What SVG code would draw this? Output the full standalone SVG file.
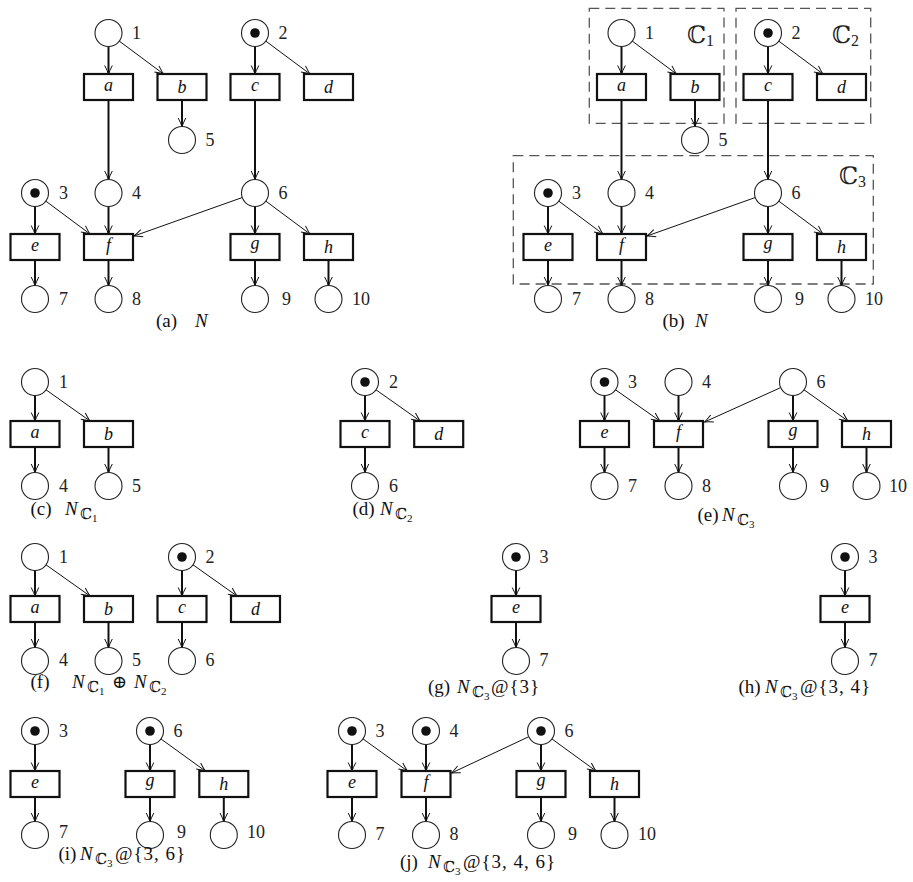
<svg xmlns="http://www.w3.org/2000/svg" width="913" height="882" viewBox="0 0 913 882">
<style>
.pl{fill:#fff;stroke:#222;stroke-width:1.1}
.tk{fill:#111}
.tr{fill:#fff;stroke:#111;stroke-width:2.2}
.arc{fill:none;stroke:#111;marker-end:url(#ah)}
.v{stroke-width:2}
.d{stroke-width:1}
.lb{font-family:"Liberation Serif","Tinos","Times New Roman","DejaVu Serif",serif;font-size:18px;fill:#222}
.tl{font-family:"Liberation Serif","Tinos","Times New Roman","DejaVu Serif",serif;font-style:italic;font-size:18px;text-anchor:middle;fill:#111}
.cap{font-family:"Liberation Serif","Tinos","Times New Roman","DejaVu Serif",serif;font-size:19px;fill:#111}
.it{font-style:italic}
.ls{letter-spacing:1px}
.bb{font-family:"DejaVu Serif",serif}
.box{fill:none;stroke:#555;stroke-width:1.3;stroke-dasharray:10 6}
</style>
<defs>
<marker id="ah" markerUnits="userSpaceOnUse" markerWidth="12" markerHeight="10" viewBox="-10 -5 12 10" refX="0" refY="0" orient="auto" overflow="visible">
<path d="M-8.5,-3.8 Q-3,-1 0,0 Q-3,1 -8.5,3.8" fill="none" stroke="#111" stroke-width="1"/>
</marker>
</defs>

<!-- ================= Panel (a) ================= -->
<g id="panel-a">
<g id="a-connectors">
<line class="arc v" x1="108.5" y1="46.5" x2="108.5" y2="74"/>
<line class="arc d" x1="119.3" y1="41.1" x2="163.5" y2="74"/>
<line class="arc v" x1="255" y1="46.5" x2="255" y2="74"/>
<line class="arc d" x1="265.8" y1="41.1" x2="310" y2="74"/>
<line class="arc v" x1="108.5" y1="100" x2="108.5" y2="179.5"/>
<line class="arc v" x1="182" y1="100" x2="182" y2="126.5"/>
<line class="arc v" x1="255" y1="100" x2="255" y2="179.5"/>
<line class="arc v" x1="35" y1="206.5" x2="35" y2="234"/>
<line class="arc d" x1="45.8" y1="201.1" x2="90" y2="234"/>
<line class="arc v" x1="108.5" y1="206.5" x2="108.5" y2="234"/>
<line class="arc d" x1="242.3" y1="197.5" x2="134" y2="236"/>
<line class="arc v" x1="255" y1="206.5" x2="255" y2="234"/>
<line class="arc d" x1="265.8" y1="201.1" x2="310" y2="234"/>
<line class="arc v" x1="35" y1="260" x2="35" y2="285.5"/>
<line class="arc v" x1="108.5" y1="260" x2="108.5" y2="285.5"/>
<line class="arc v" x1="255" y1="260" x2="255" y2="285.5"/>
<line class="arc v" x1="328.5" y1="260" x2="328.5" y2="285.5"/>
</g>
<g id="a-p1"><circle class="pl" cx="108.5" cy="33" r="13.5"/><text class="lb" x="132" y="39">1</text></g>
<g id="a-p2"><circle class="pl" cx="255" cy="33" r="13.5"/><circle class="tk" cx="255" cy="33" r="4.8"/><text class="lb" x="278.5" y="39">2</text></g>
<g id="a-p5"><circle class="pl" cx="182" cy="140" r="13.5"/><text class="lb" x="205.5" y="146">5</text></g>
<g id="a-p3"><circle class="pl" cx="35" cy="193" r="13.5"/><circle class="tk" cx="35" cy="193" r="4.8"/><text class="lb" x="59" y="199">3</text></g>
<g id="a-p4"><circle class="pl" cx="108.5" cy="193" r="13.5"/><text class="lb" x="132" y="199">4</text></g>
<g id="a-p6"><circle class="pl" cx="255" cy="193" r="13.5"/><text class="lb" x="278.5" y="199">6</text></g>
<g id="a-p7"><circle class="pl" cx="35" cy="299" r="13.5"/><text class="lb" x="59" y="305">7</text></g>
<g id="a-p8"><circle class="pl" cx="108.5" cy="299" r="13.5"/><text class="lb" x="132" y="305">8</text></g>
<g id="a-p9"><circle class="pl" cx="255" cy="299" r="13.5"/><text class="lb" x="282" y="305">9</text></g>
<g id="a-p10"><circle class="pl" cx="328.5" cy="299" r="13.5"/><text class="lb" x="352" y="305">10</text></g>
<g id="a-ta"><rect class="tr" x="84" y="74" width="49" height="26"/><text class="tl" x="108.5" y="91">a</text></g>
<g id="a-tb"><rect class="tr" x="157.5" y="74" width="49" height="26"/><text class="tl" x="182" y="93">b</text></g>
<g id="a-tc"><rect class="tr" x="230.5" y="74" width="49" height="26"/><text class="tl" x="255" y="91">c</text></g>
<g id="a-td"><rect class="tr" x="304" y="74" width="49" height="26"/><text class="tl" x="328.5" y="93">d</text></g>
<g id="a-te"><rect class="tr" x="10.5" y="234" width="49" height="26"/><text class="tl" x="35" y="251">e</text></g>
<g id="a-tf"><rect class="tr" x="84" y="234" width="49" height="26"/><text class="tl" x="108.5" y="251">f</text></g>
<g id="a-tg"><rect class="tr" x="230.5" y="234" width="49" height="26"/><text class="tl" x="255" y="249">g</text></g>
<g id="a-th"><rect class="tr" x="304" y="234" width="49" height="26"/><text class="tl" x="328.5" y="253">h</text></g>
<text class="cap" x="156" y="327">(a)<tspan class="it" x="195">N</tspan></text>
</g>

<!-- ================= Panel (b) ================= -->
<g id="panel-b">
<g id="b-clusters">
<rect class="box" x="589.3" y="8.3" width="134.7" height="115"/>
<rect class="box" x="736" y="8.3" width="134.7" height="115"/>
<rect class="box" x="513.3" y="155.7" width="360" height="128.3"/>
<text class="bb" x="687" y="43" font-size="24" fill="#222">ℂ<tspan font-size="16" font-family="Liberation Serif, DejaVu Serif, serif" dy="3">1</tspan></text>
<text class="bb" x="832" y="43" font-size="24" fill="#222">ℂ<tspan font-size="16" font-family="Liberation Serif, DejaVu Serif, serif" dy="3">2</tspan></text>
<text class="bb" x="839" y="184" font-size="24" fill="#222">ℂ<tspan font-size="16" font-family="Liberation Serif, DejaVu Serif, serif" dy="3">3</tspan></text>
</g>
<g id="b-connectors">
<line class="arc v" x1="621.5" y1="46.5" x2="621.5" y2="74"/>
<line class="arc d" x1="632.3" y1="41.1" x2="676.5" y2="74"/>
<line class="arc v" x1="768" y1="46.5" x2="768" y2="74"/>
<line class="arc d" x1="778.8" y1="41.1" x2="823" y2="74"/>
<line class="arc v" x1="621.5" y1="100" x2="621.5" y2="179.5"/>
<line class="arc v" x1="695" y1="100" x2="695" y2="126.5"/>
<line class="arc v" x1="768" y1="100" x2="768" y2="179.5"/>
<line class="arc v" x1="548" y1="206.5" x2="548" y2="234"/>
<line class="arc d" x1="558.8" y1="201.1" x2="603" y2="234"/>
<line class="arc v" x1="621.5" y1="206.5" x2="621.5" y2="234"/>
<line class="arc d" x1="755.3" y1="197.5" x2="647" y2="236"/>
<line class="arc v" x1="768" y1="206.5" x2="768" y2="234"/>
<line class="arc d" x1="778.8" y1="201.1" x2="823" y2="234"/>
<line class="arc v" x1="548" y1="260" x2="548" y2="285.5"/>
<line class="arc v" x1="621.5" y1="260" x2="621.5" y2="285.5"/>
<line class="arc v" x1="768" y1="260" x2="768" y2="285.5"/>
<line class="arc v" x1="841.5" y1="260" x2="841.5" y2="285.5"/>
</g>
<g id="b-p1"><circle class="pl" cx="621.5" cy="33" r="13.5"/><text class="lb" x="645" y="39">1</text></g>
<g id="b-p2"><circle class="pl" cx="768" cy="33" r="13.5"/><circle class="tk" cx="768" cy="33" r="4.8"/><text class="lb" x="791.5" y="39">2</text></g>
<g id="b-p5"><circle class="pl" cx="695" cy="140" r="13.5"/><text class="lb" x="718.5" y="146">5</text></g>
<g id="b-p3"><circle class="pl" cx="548" cy="193" r="13.5"/><circle class="tk" cx="548" cy="193" r="4.8"/><text class="lb" x="572" y="199">3</text></g>
<g id="b-p4"><circle class="pl" cx="621.5" cy="193" r="13.5"/><text class="lb" x="645" y="199">4</text></g>
<g id="b-p6"><circle class="pl" cx="768" cy="193" r="13.5"/><text class="lb" x="791.5" y="199">6</text></g>
<g id="b-p7"><circle class="pl" cx="548" cy="299" r="13.5"/><text class="lb" x="572" y="305">7</text></g>
<g id="b-p8"><circle class="pl" cx="621.5" cy="299" r="13.5"/><text class="lb" x="645" y="305">8</text></g>
<g id="b-p9"><circle class="pl" cx="768" cy="299" r="13.5"/><text class="lb" x="795" y="305">9</text></g>
<g id="b-p10"><circle class="pl" cx="841.5" cy="299" r="13.5"/><text class="lb" x="865" y="305">10</text></g>
<g id="b-ta"><rect class="tr" x="597" y="74" width="49" height="26"/><text class="tl" x="621.5" y="91">a</text></g>
<g id="b-tb"><rect class="tr" x="670.5" y="74" width="49" height="26"/><text class="tl" x="695" y="93">b</text></g>
<g id="b-tc"><rect class="tr" x="743.5" y="74" width="49" height="26"/><text class="tl" x="768" y="91">c</text></g>
<g id="b-td"><rect class="tr" x="817" y="74" width="49" height="26"/><text class="tl" x="841.5" y="93">d</text></g>
<g id="b-te"><rect class="tr" x="523.5" y="234" width="49" height="26"/><text class="tl" x="548" y="251">e</text></g>
<g id="b-tf"><rect class="tr" x="597" y="234" width="49" height="26"/><text class="tl" x="621.5" y="251">f</text></g>
<g id="b-tg"><rect class="tr" x="743.5" y="234" width="49" height="26"/><text class="tl" x="768" y="249">g</text></g>
<g id="b-th"><rect class="tr" x="817" y="234" width="49" height="26"/><text class="tl" x="841.5" y="253">h</text></g>
<text class="cap" x="662.5" y="327">(b)<tspan class="it" x="695">N</tspan></text>
</g>

<!-- ================= Panel (c) ================= -->
<g id="panel-c">
<g id="c-connectors">
<line class="arc v" x1="35" y1="395.5" x2="35" y2="421"/>
<line class="arc d" x1="46" y1="389.8" x2="90" y2="421"/>
<line class="arc v" x1="35" y1="447" x2="35" y2="472.5"/>
<line class="arc v" x1="108.5" y1="447" x2="108.5" y2="472.5"/>
</g>
<g id="c-p1"><circle class="pl" cx="35" cy="382" r="13.5"/><text class="lb" x="59" y="388">1</text></g>
<g id="c-p4"><circle class="pl" cx="35" cy="486" r="13.5"/><text class="lb" x="59" y="492">4</text></g>
<g id="c-p5"><circle class="pl" cx="108.5" cy="486" r="13.5"/><text class="lb" x="132" y="492">5</text></g>
<g id="c-ta"><rect class="tr" x="10.5" y="421" width="49" height="26"/><text class="tl" x="35" y="438">a</text></g>
<g id="c-tb"><rect class="tr" x="84" y="421" width="49" height="26"/><text class="tl" x="108.5" y="440">b</text></g>
<text class="cap" x="30.5" y="515">(c)<tspan class="it" x="65">N</tspan><tspan class="bb" font-size="15" x="80" dy="4">ℂ</tspan><tspan font-size="11" x="92" dy="3">1</tspan></text>
</g>

<!-- ================= Panel (d) ================= -->
<g id="panel-d">
<g id="d-connectors">
<line class="arc v" x1="365" y1="395.5" x2="365" y2="421"/>
<line class="arc d" x1="376" y1="389.8" x2="420.2" y2="421"/>
<line class="arc v" x1="365" y1="447" x2="365" y2="472.5"/>
</g>
<g id="d-p2"><circle class="pl" cx="365" cy="382" r="13.5"/><circle class="tk" cx="365" cy="382" r="4.8"/><text class="lb" x="389" y="388">2</text></g>
<g id="d-p6"><circle class="pl" cx="365" cy="486" r="13.5"/><text class="lb" x="389" y="492">6</text></g>
<g id="d-tc"><rect class="tr" x="340.5" y="421" width="49" height="26"/><text class="tl" x="365" y="438">c</text></g>
<g id="d-td"><rect class="tr" x="414.2" y="421" width="49" height="26"/><text class="tl" x="438.7" y="440">d</text></g>
<text class="cap" x="352.5" y="515">(d)<tspan class="it" x="380">N</tspan><tspan class="bb" font-size="15" x="395" dy="4">ℂ</tspan><tspan font-size="11" x="407" dy="3">2</tspan></text>
</g>

<!-- ================= Panel (e) ================= -->
<g id="panel-e">
<g id="e-connectors">
<line class="arc v" x1="604.5" y1="395.5" x2="604.5" y2="421"/>
<line class="arc d" x1="615.5" y1="389.8" x2="660" y2="421"/>
<line class="arc v" x1="678.5" y1="395.5" x2="678.5" y2="421"/>
<line class="arc d" x1="780.7" y1="387.6" x2="704.5" y2="422"/>
<line class="arc v" x1="793" y1="395.5" x2="793" y2="421"/>
<line class="arc d" x1="804" y1="389.8" x2="848" y2="421"/>
<line class="arc v" x1="604.5" y1="447" x2="604.5" y2="472.5"/>
<line class="arc v" x1="678.5" y1="447" x2="678.5" y2="472.5"/>
<line class="arc v" x1="793" y1="447" x2="793" y2="472.5"/>
<line class="arc v" x1="866.5" y1="447" x2="866.5" y2="472.5"/>
</g>
<g id="e-p3"><circle class="pl" cx="604.5" cy="382" r="13.5"/><circle class="tk" cx="604.5" cy="382" r="4.8"/><text class="lb" x="628" y="388">3</text></g>
<g id="e-p4"><circle class="pl" cx="678.5" cy="382" r="13.5"/><text class="lb" x="702" y="388">4</text></g>
<g id="e-p6"><circle class="pl" cx="793" cy="382" r="13.5"/><text class="lb" x="816.5" y="388">6</text></g>
<g id="e-p7"><circle class="pl" cx="604.5" cy="486" r="13.5"/><text class="lb" x="628" y="492">7</text></g>
<g id="e-p8"><circle class="pl" cx="678.5" cy="486" r="13.5"/><text class="lb" x="702" y="492">8</text></g>
<g id="e-p9"><circle class="pl" cx="793" cy="486" r="13.5"/><text class="lb" x="820" y="492">9</text></g>
<g id="e-p10"><circle class="pl" cx="866.5" cy="486" r="13.5"/><text class="lb" x="889" y="492">10</text></g>
<g id="e-te"><rect class="tr" x="580" y="421" width="49" height="26"/><text class="tl" x="604.5" y="438">e</text></g>
<g id="e-tf"><rect class="tr" x="654" y="421" width="49" height="26"/><text class="tl" x="678.5" y="438">f</text></g>
<g id="e-tg"><rect class="tr" x="768.5" y="421" width="49" height="26"/><text class="tl" x="793" y="436">g</text></g>
<g id="e-th"><rect class="tr" x="842" y="421" width="49" height="26"/><text class="tl" x="866.5" y="440">h</text></g>
<text class="cap" x="697.5" y="521">(e)<tspan class="it" x="722">N</tspan><tspan class="bb" font-size="15" x="737" dy="4">ℂ</tspan><tspan font-size="11" x="749" dy="3">3</tspan></text>
</g>

<!-- ================= Panel (f) ================= -->
<g id="panel-f">
<g id="f-connectors">
<line class="arc v" x1="35" y1="570.5" x2="35" y2="596"/>
<line class="arc d" x1="46" y1="564.8" x2="90" y2="596"/>
<line class="arc v" x1="182" y1="570.5" x2="182" y2="596"/>
<line class="arc d" x1="193" y1="564.8" x2="237" y2="596"/>
<line class="arc v" x1="35" y1="622" x2="35" y2="647.5"/>
<line class="arc v" x1="108.5" y1="622" x2="108.5" y2="647.5"/>
<line class="arc v" x1="182" y1="622" x2="182" y2="647.5"/>
</g>
<g id="f-p1"><circle class="pl" cx="35" cy="557" r="13.5"/><text class="lb" x="59" y="563">1</text></g>
<g id="f-p2"><circle class="pl" cx="182" cy="557" r="13.5"/><circle class="tk" cx="182" cy="557" r="4.8"/><text class="lb" x="205.5" y="563">2</text></g>
<g id="f-p4"><circle class="pl" cx="35" cy="661" r="13.5"/><text class="lb" x="59" y="666">4</text></g>
<g id="f-p5"><circle class="pl" cx="108.5" cy="661" r="13.5"/><text class="lb" x="132" y="666">5</text></g>
<g id="f-p6"><circle class="pl" cx="182" cy="661" r="13.5"/><text class="lb" x="205.5" y="666">6</text></g>
<g id="f-ta"><rect class="tr" x="10.5" y="596" width="49" height="26"/><text class="tl" x="35" y="613">a</text></g>
<g id="f-tb"><rect class="tr" x="84" y="596" width="49" height="26"/><text class="tl" x="108.5" y="615">b</text></g>
<g id="f-tc"><rect class="tr" x="157.5" y="596" width="49" height="26"/><text class="tl" x="182" y="613">c</text></g>
<g id="f-td"><rect class="tr" x="231" y="596" width="49" height="26"/><text class="tl" x="255.5" y="615">d</text></g>
<text class="cap" x="30.5" y="688">(f)<tspan class="it" x="72">N</tspan><tspan class="bb" font-size="15" x="87" dy="4">ℂ</tspan><tspan font-size="11" x="99" dy="3">1</tspan><tspan class="bb" font-size="18" x="112" dy="-7">⊕</tspan><tspan class="it" x="134">N</tspan><tspan class="bb" font-size="15" x="149" dy="4">ℂ</tspan><tspan font-size="11" x="161" dy="3">2</tspan></text>
</g>

<!-- ================= Panel (g) ================= -->
<g id="panel-g">
<g id="g-connectors">
<line class="arc v" x1="516" y1="570.5" x2="516" y2="596"/>
<line class="arc v" x1="516" y1="622" x2="516" y2="647.5"/>
</g>
<g id="g-p3"><circle class="pl" cx="516" cy="557" r="13.5"/><circle class="tk" cx="516" cy="557" r="4.8"/><text class="lb" x="539.5" y="563">3</text></g>
<g id="g-p7"><circle class="pl" cx="516" cy="661" r="13.5"/><text class="lb" x="539.5" y="666">7</text></g>
<g id="g-te"><rect class="tr" x="491.5" y="596" width="49" height="26"/><text class="tl" x="516" y="613">e</text></g>
<text class="cap" x="428" y="693">(g)<tspan class="it" x="457">N</tspan><tspan class="bb" font-size="15" x="472" dy="4">ℂ</tspan><tspan font-size="11" x="484" dy="3">3</tspan><tspan class="ls" x="491" dy="-7">@{3}</tspan></text>
</g>

<!-- ================= Panel (h) ================= -->
<g id="panel-h">
<g id="h-connectors">
<line class="arc v" x1="845" y1="570.5" x2="845" y2="596"/>
<line class="arc v" x1="845" y1="622" x2="845" y2="647.5"/>
</g>
<g id="h-p3"><circle class="pl" cx="845" cy="557" r="13.5"/><circle class="tk" cx="845" cy="557" r="4.8"/><text class="lb" x="868.5" y="563">3</text></g>
<g id="h-p7"><circle class="pl" cx="845" cy="661" r="13.5"/><text class="lb" x="868.5" y="666">7</text></g>
<g id="h-te"><rect class="tr" x="820.5" y="596" width="49" height="26"/><text class="tl" x="845" y="613">e</text></g>
<text class="cap" x="738.5" y="693">(h)<tspan class="it" x="765">N</tspan><tspan class="bb" font-size="15" x="780" dy="4">ℂ</tspan><tspan font-size="11" x="792" dy="3">3</tspan><tspan class="ls" x="800" dy="-7">@{3, 4}</tspan></text>
</g>

<!-- ================= Panel (i) ================= -->
<g id="panel-i">
<g id="i-connectors">
<line class="arc v" x1="35" y1="744.5" x2="35" y2="771"/>
<line class="arc v" x1="35" y1="797" x2="35" y2="821.5"/>
<line class="arc v" x1="150" y1="744.5" x2="150" y2="771"/>
<line class="arc d" x1="160.9" y1="738.9" x2="205.3" y2="771"/>
<line class="arc v" x1="150" y1="797" x2="150" y2="821.5"/>
<line class="arc v" x1="223.8" y1="797" x2="223.8" y2="821.5"/>
</g>
<g id="i-p3"><circle class="pl" cx="35" cy="731" r="13.5"/><circle class="tk" cx="35" cy="731" r="4.8"/><text class="lb" x="59" y="737">3</text></g>
<g id="i-p6"><circle class="pl" cx="150" cy="731" r="13.5"/><circle class="tk" cx="150" cy="731" r="4.8"/><text class="lb" x="173.5" y="737">6</text></g>
<g id="i-p7"><circle class="pl" cx="35" cy="835" r="13.5"/><text class="lb" x="59" y="838">7</text></g>
<g id="i-p9"><circle class="pl" cx="150" cy="835" r="13.5"/><text class="lb" x="177" y="838">9</text></g>
<g id="i-p10"><circle class="pl" cx="223.8" cy="835" r="13.5"/><text class="lb" x="247" y="838">10</text></g>
<g id="i-te"><rect class="tr" x="10.5" y="771" width="49" height="26"/><text class="tl" x="35" y="788">e</text></g>
<g id="i-tg"><rect class="tr" x="125.5" y="771" width="49" height="26"/><text class="tl" x="150" y="786">g</text></g>
<g id="i-th"><rect class="tr" x="199.3" y="771" width="49" height="26"/><text class="tl" x="223.8" y="790">h</text></g>
<text class="cap" x="58.5" y="860">(i)<tspan class="it" x="80">N</tspan><tspan class="bb" font-size="15" x="95" dy="4">ℂ</tspan><tspan font-size="11" x="107" dy="3">3</tspan><tspan class="ls" x="115" dy="-7">@{3, 6}</tspan></text>
</g>

<!-- ================= Panel (j) ================= -->
<g id="panel-j">
<g id="j-connectors">
<line class="arc v" x1="352" y1="744.5" x2="352" y2="771"/>
<line class="arc d" x1="363" y1="738.9" x2="407.5" y2="771"/>
<line class="arc v" x1="426" y1="744.5" x2="426" y2="771"/>
<line class="arc d" x1="528.8" y1="736.7" x2="451.5" y2="773"/>
<line class="arc v" x1="541" y1="744.5" x2="541" y2="771"/>
<line class="arc d" x1="551.9" y1="738.9" x2="596" y2="771"/>
<line class="arc v" x1="352" y1="797" x2="352" y2="821.5"/>
<line class="arc v" x1="426" y1="797" x2="426" y2="821.5"/>
<line class="arc v" x1="541" y1="797" x2="541" y2="821.5"/>
<line class="arc v" x1="614.5" y1="797" x2="614.5" y2="821.5"/>
</g>
<g id="j-p3"><circle class="pl" cx="352" cy="731" r="13.5"/><circle class="tk" cx="352" cy="731" r="4.8"/><text class="lb" x="375.5" y="737">3</text></g>
<g id="j-p4"><circle class="pl" cx="426" cy="731" r="13.5"/><circle class="tk" cx="426" cy="731" r="4.8"/><text class="lb" x="449.5" y="737">4</text></g>
<g id="j-p6"><circle class="pl" cx="541" cy="731" r="13.5"/><circle class="tk" cx="541" cy="731" r="4.8"/><text class="lb" x="564.5" y="737">6</text></g>
<g id="j-p7"><circle class="pl" cx="352" cy="835" r="13.5"/><text class="lb" x="375.5" y="840">7</text></g>
<g id="j-p8"><circle class="pl" cx="426" cy="835" r="13.5"/><text class="lb" x="449.5" y="840">8</text></g>
<g id="j-p9"><circle class="pl" cx="541" cy="835" r="13.5"/><text class="lb" x="568" y="840">9</text></g>
<g id="j-p10"><circle class="pl" cx="614.5" cy="835" r="13.5"/><text class="lb" x="638" y="840">10</text></g>
<g id="j-te"><rect class="tr" x="327.5" y="771" width="49" height="26"/><text class="tl" x="352" y="788">e</text></g>
<g id="j-tf"><rect class="tr" x="401.5" y="771" width="49" height="26"/><text class="tl" x="426" y="788">f</text></g>
<g id="j-tg"><rect class="tr" x="516.5" y="771" width="49" height="26"/><text class="tl" x="541" y="786">g</text></g>
<g id="j-th"><rect class="tr" x="590" y="771" width="49" height="26"/><text class="tl" x="614.5" y="790">h</text></g>
<text class="cap" x="400" y="868">(j)<tspan class="it" x="428">N</tspan><tspan class="bb" font-size="15" x="443" dy="4">ℂ</tspan><tspan font-size="11" x="455" dy="3">3</tspan><tspan class="ls" x="463" dy="-7">@{3, 4, 6}</tspan></text>
</g>
</svg>
